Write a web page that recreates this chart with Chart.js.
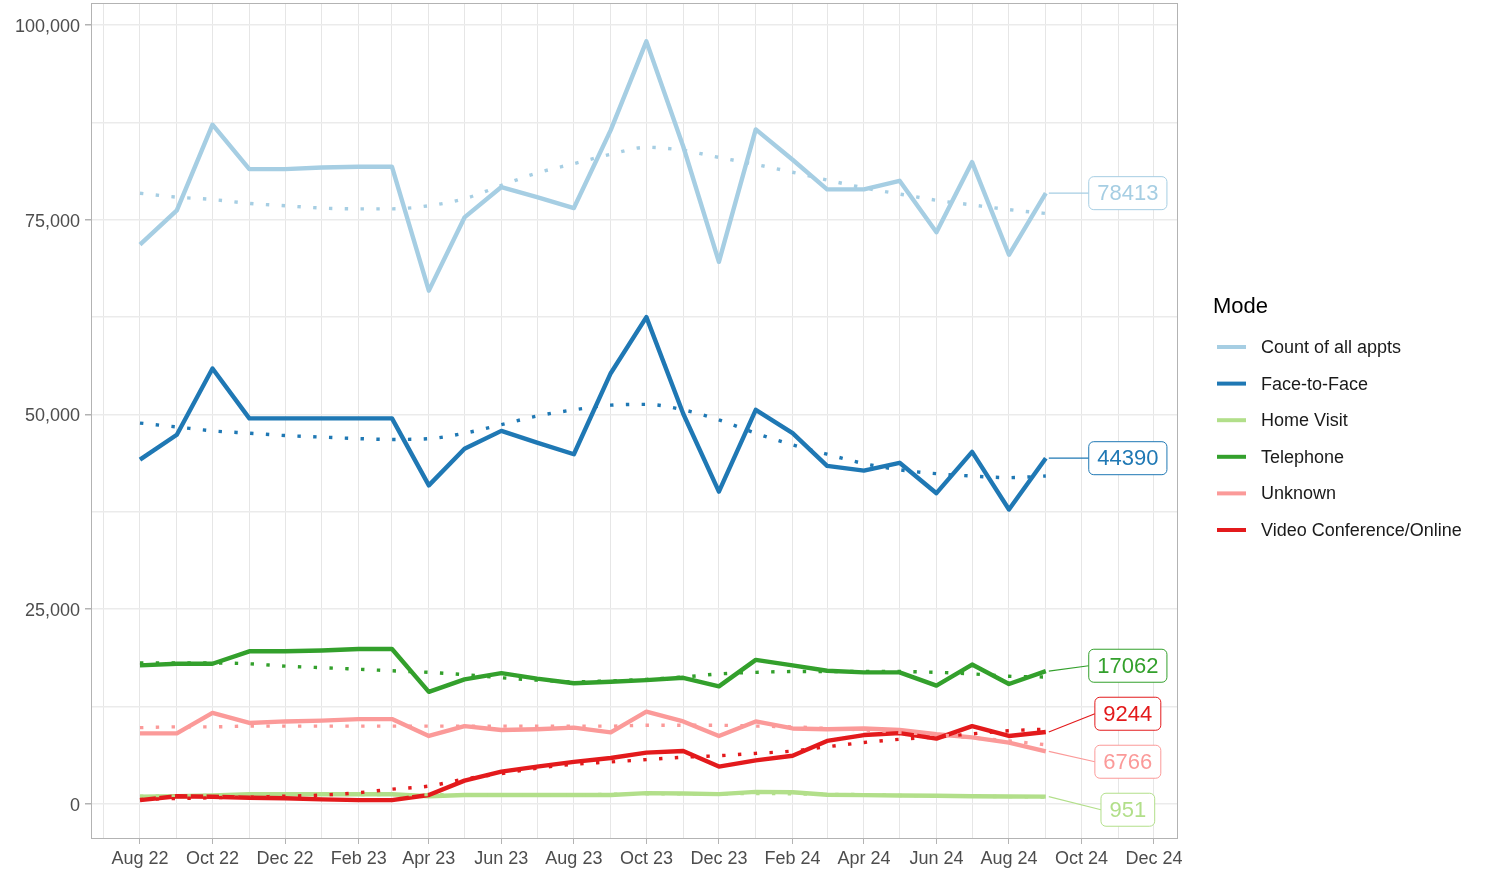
<!DOCTYPE html>
<html>
<head>
<meta charset="utf-8">
<script src="https://cdn.jsdelivr.net/npm/chart.js@4.4.0/dist/chart.umd.min.js"></script>
<style>
  html, body { margin: 0; padding: 0; background: #fff; }
  canvas { display: block; }
</style>
</head>
<body>
<canvas id="modeChart" width="1488" height="870"></canvas>
<script>
// monthly points, Aug 22 .. Sep 24
const months = ['2022-08','2022-09','2022-10','2022-11','2022-12','2023-01','2023-02','2023-03',
  '2023-04','2023-05','2023-06','2023-07','2023-08','2023-09','2023-10','2023-11','2023-12',
  '2024-01','2024-02','2024-03','2024-04','2024-05','2024-06','2024-07','2024-08','2024-09'];

const tickMonths = ['2022-08','2022-10','2022-12','2023-02','2023-04','2023-06','2023-08',
  '2023-10','2023-12','2024-02','2024-04','2024-06','2024-08','2024-10','2024-12'];
const tickLabels = ['Aug 22','Oct 22','Dec 22','Feb 23','Apr 23','Jun 23','Aug 23',
  'Oct 23','Dec 23','Feb 24','Apr 24','Jun 24','Aug 24','Oct 24','Dec 24'];

const yTicks = [0, 25000, 50000, 75000, 100000];
const yGrid = [0, 12500, 25000, 37500, 50000, 62500, 75000, 87500, 100000];

const countAll = [71800, 76200, 87200, 81500, 81500, 81700, 81800, 81800, 65900, 75300, 79200, 77900, 76500,
  86500, 97900, 84400, 69600, 86600, 82700, 78900, 78900, 80000, 73400, 82400, 70500, 78413];
const faceToFace = [44200, 47400, 55900, 49500, 49500, 49500, 49500, 49500, 40900, 45600, 47900, 46400, 44900,
  55300, 62500, 50100, 40100, 50600, 47600, 43400, 42800, 43800, 39900, 45200, 37800, 44390];
const homeVisit = [930, 1000, 1100, 1250, 1250, 1250, 1250, 1250, 1000, 1150, 1150, 1150, 1150,
  1150, 1400, 1350, 1270, 1550, 1500, 1180, 1140, 1100, 1050, 1000, 970, 951];
const telephone = [17800, 18000, 18000, 19600, 19600, 19700, 19900, 19900, 14400, 16000, 16800, 16100, 15500,
  15700, 15900, 16200, 15100, 18500, 17800, 17100, 16900, 16900, 15200, 17900, 15400, 17062];
const unknown = [9070, 9070, 11700, 10400, 10600, 10700, 10900, 10900, 8730, 10000, 9500, 9600, 9800,
  9200, 11850, 10600, 8730, 10600, 9700, 9600, 9700, 9500, 8950, 8560, 7870, 6766];
const videoOnline = [500, 1000, 940, 800, 730, 600, 500, 500, 1150, 3000, 4150, 4800, 5400,
  5900, 6600, 6800, 4800, 5600, 6200, 8100, 8850, 9100, 8400, 10000, 8730, 9244];

// smoothed trends (dotted)
const countTrend = [78400, 77900, 77600, 77100, 76800, 76500, 76400, 76400, 76800, 77700, 79400, 81000, 82200,
  83400, 84300, 83900, 83000, 82100, 81100, 80100, 79100, 78300, 77500, 76900, 76300, 75800];
const faceTrend = [48900, 48400, 47900, 47600, 47300, 47100, 46900, 46800, 46900, 47600, 48700, 49800, 50600,
  51200, 51300, 50600, 49300, 47600, 46100, 44900, 43700, 42900, 42400, 42100, 41900, 42100];
const homeTrend = [1000, 1050, 1100, 1150, 1200, 1200, 1200, 1200, 1200, 1200, 1200, 1200, 1200,
  1250, 1300, 1300, 1300, 1350, 1300, 1250, 1200, 1100, 1050, 1000, 950, 900];
const phoneTrend = [18100, 18100, 18100, 18000, 17700, 17500, 17300, 17100, 16900, 16600, 16200, 15900, 15700,
  15800, 16000, 16300, 16700, 16900, 17000, 17000, 17000, 17000, 16900, 16700, 16400, 16300];
const unknownTrend = [9800, 9900, 9900, 10000, 10000, 10000, 10000, 10000, 10000, 10000, 10000, 10000, 10000,
  10000, 10100, 10100, 10100, 10000, 9900, 9700, 9500, 9200, 8900, 8500, 8100, 7600];
const videoTrend = [600, 700, 800, 900, 1000, 1150, 1450, 1900, 2300, 3200, 3900, 4600, 5100,
  5400, 5700, 6000, 6200, 6500, 6800, 7350, 7900, 8300, 8600, 9000, 9400, 9600];

const seriesNames = ['Count of all appts', 'Face-to-Face', 'Home Visit', 'Telephone', 'Unknown', 'Video Conference/Online'];
const seriesColors = ['#A6CEE3', '#1F78B4', '#B2DF8A', '#33A02C', '#FB9A99', '#E31A1C'];
const seriesValues = [countAll, faceToFace, homeVisit, telephone, unknown, videoOnline];
const trendValues = [countTrend, faceTrend, homeTrend, phoneTrend, unknownTrend, videoTrend];

// days since 1 Aug 2022, like a ggplot date axis
const dayOf = m => {
  const [yy, mm] = m.split('-').map(Number);
  return (Date.UTC(yy, mm - 1, 1) - Date.UTC(2022, 7, 1)) / 864e5;
};
const labelByDay = {};
tickMonths.forEach((m, i) => { labelByDay[dayOf(m)] = tickLabels[i]; });

const gridDays = [];
for (let y = 2022, mo = 7; y < 2025; ) {
  gridDays.push(dayOf(y + '-' + String(mo).padStart(2, '0')));
  mo++;
  if (mo > 12) { mo = 1; y++; }
}

const datasets = [];
seriesNames.forEach((name, i) => {
  datasets.push({
    label: name,
    data: months.map((m, k) => ({ x: dayOf(m), y: seriesValues[i][k] })),
    borderColor: seriesColors[i],
    borderWidth: 4.4,
    order: 20 - i
  });
});
seriesNames.forEach((name, i) => {
  datasets.push({
    label: name + ' trend',
    trend: true,
    data: months.map((m, k) => ({ x: dayOf(m), y: trendValues[i][k] })),
    borderColor: seriesColors[i],
    borderWidth: 3.4,
    borderDash: [3.4, 12.4],
    cubicInterpolationMode: 'monotone',
    order: 10 - i
  });
});

const FONT = "'Liberation Sans', Arial, sans-serif";
const LABEL_DAY = 831;

const panelBorder = {
  id: 'panelBorder',
  afterDatasetsDraw(chart) {
    const { ctx, chartArea: a } = chart;
    ctx.save();
    ctx.strokeStyle = '#b3b3b3';
    ctx.lineWidth = 1;
    ctx.strokeRect(Math.round(a.left) + 0.5, Math.round(a.top) + 0.5, Math.round(a.right - a.left) - 1, Math.round(a.bottom - a.top) - 1);
    ctx.restore();
  }
};

const endLabels = {
  id: 'endLabels',
  afterDraw(chart) {
    const { ctx, scales: { x, y } } = chart;
    const items = chart.data.datasets.filter(d => !d.trend).map(d => {
      const last = d.data[d.data.length - 1];
      return { color: d.borderColor, text: String(last.y), px: x.getPixelForValue(last.x), py: y.getPixelForValue(last.y) };
    });
    items.sort((a, b) => a.py - b.py);
    // push overlapping labels apart, keeping each group centred on its points
    const gap = 48;
    const place = g => {
      const mean = g.reduce((s, m) => s + m.py, 0) / g.length;
      g.forEach((m, i) => { m.ly = mean + (i - (g.length - 1) / 2) * gap; });
    };
    let groups = items.map(it => [it]);
    groups.forEach(place);
    let merged = true;
    while (merged) {
      merged = false;
      for (let i = 0; i < groups.length - 1; i++) {
        const a = groups[i], b = groups[i + 1];
        if (b[0].ly - a[a.length - 1].ly < gap) {
          groups[i] = a.concat(b);
          groups.splice(i + 1, 1);
          place(groups[i]);
          merged = true;
          break;
        }
      }
    }
    const cx = x.getPixelForValue(LABEL_DAY);
    ctx.save();
    ctx.font = '22px ' + FONT;
    items.forEach(it => {
      const w = ctx.measureText(it.text).width + 17;
      const h = 33;
      const left = cx - w / 2;
      ctx.strokeStyle = it.color;
      ctx.lineWidth = 1.2;
      ctx.beginPath();
      ctx.moveTo(it.px + 3, it.py);
      ctx.lineTo(left, it.ly);
      ctx.stroke();
      ctx.beginPath();
      ctx.roundRect(left, it.ly - h / 2, w, h, 5);
      ctx.fillStyle = '#fff';
      ctx.fill();
      ctx.lineWidth = 1;
      ctx.stroke();
      ctx.fillStyle = it.color;
      ctx.textAlign = 'center';
      ctx.textBaseline = 'middle';
      ctx.fillText(it.text, cx, it.ly + 1);
    });
    ctx.restore();
  }
};

const modeLegend = {
  id: 'modeLegend',
  afterDraw(chart) {
    const ctx = chart.ctx;
    ctx.save();
    ctx.textAlign = 'left';
    ctx.textBaseline = 'middle';
    ctx.fillStyle = '#000';
    ctx.font = '22px ' + FONT;
    ctx.fillText('Mode', 1213, 307);
    ctx.font = '18px ' + FONT;
    chart.data.datasets.filter(d => !d.trend).forEach((d, i) => {
      const yy = 347 + i * 36.6;
      ctx.strokeStyle = d.borderColor;
      ctx.lineWidth = 4;
      ctx.beginPath();
      ctx.moveTo(1217, yy);
      ctx.lineTo(1246, yy);
      ctx.stroke();
      ctx.fillStyle = '#1a1a1a';
      ctx.fillText(d.label, 1261, yy + 1);
    });
    ctx.restore();
  }
};

new Chart(document.getElementById('modeChart'), {
  type: 'line',
  data: { datasets: datasets },
  plugins: [panelBorder, endLabels, modeLegend],
  options: {
    responsive: false,
    animation: false,
    devicePixelRatio: 1,
    layout: { padding: { left: 0, top: 3, right: 310, bottom: 0 } },
    elements: {
      point: { radius: 0 },
      line: { tension: 0, borderJoinStyle: 'round', borderCapStyle: 'butt', fill: false }
    },
    plugins: { legend: { display: false }, tooltip: { enabled: false } },
    scales: {
      x: {
        type: 'linear',
        min: -41.2,
        max: 873.2,
        afterBuildTicks: s => { s.ticks = gridDays.map(v => ({ value: v })); },
        afterFit: s => { s.height = 31; s.paddingLeft = 0; s.paddingRight = 0; },
        border: { display: false },
        grid: {
          color: '#e6e6e6',
          lineWidth: 1,
          tickLength: 5,
          tickColor: c => (c.tick && labelByDay[c.tick.value] ? '#b3b3b3' : 'rgba(0,0,0,0)')
        },
        ticks: {
          autoSkip: false,
          maxRotation: 0,
          padding: 4,
          color: '#4d4d4d',
          font: { family: FONT, size: 18 },
          callback: v => labelByDay[v] || ''
        }
      },
      y: {
        type: 'linear',
        min: -4493,
        max: 102824,
        afterBuildTicks: s => { s.ticks = yGrid.map(v => ({ value: v })); },
        afterFit: s => { s.width = 91; s.paddingTop = 0; s.paddingBottom = 0; },
        border: { display: false },
        grid: {
          color: '#ebebeb',
          lineWidth: 1.5,
          tickLength: 6,
          tickColor: c => (c.tick && yTicks.includes(c.tick.value) ? '#b3b3b3' : 'rgba(0,0,0,0)')
        },
        ticks: {
          autoSkip: false,
          padding: 5,
          labelOffset: 2,
          color: '#4d4d4d',
          font: { family: FONT, size: 18 },
          callback: v => (yTicks.includes(v) ? v.toLocaleString('en-US') : '')
        }
      }
    }
  }
});
</script>
</body>
</html>
